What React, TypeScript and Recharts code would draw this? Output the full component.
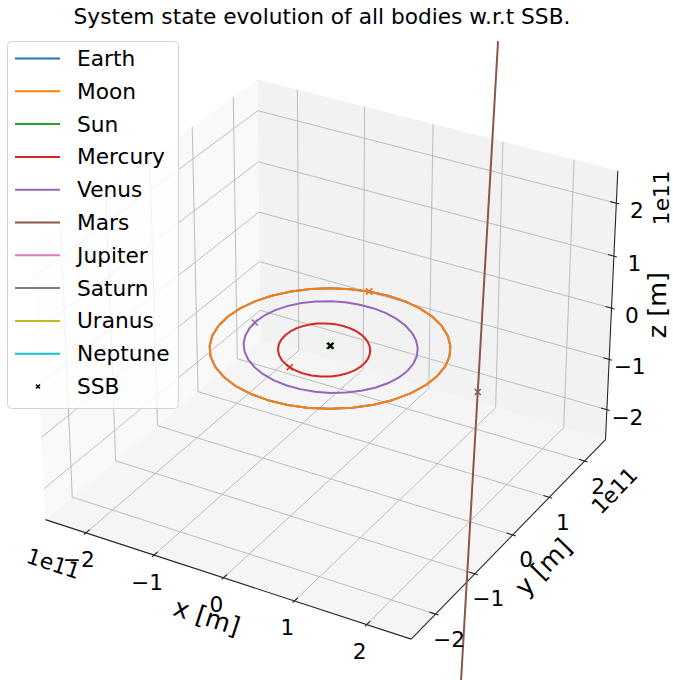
import React from 'react';
import { ScatterChart, Scatter, XAxis, YAxis, Legend } from 'recharts';

const FONT = '"DejaVu Sans", "Liberation Sans", Arial, sans-serif';
const TITLE = 'System state evolution of all bodies w.r.t SSB.';

const BODY_NAMES = ['Earth', 'Moon', 'Sun', 'Mercury', 'Venus', 'Mars', 'Jupiter', 'Saturn', 'Uranus', 'Neptune'];
const BODY_COLORS = ['#1f77b4', '#ff7f0e', '#2ca02c', '#d62728', '#9467bd', '#8c564b', '#e377c2', '#7f7f7f', '#bcbd22', '#17becf'];
const SSB_LABEL = 'SSB';

// Axis limits and ticks, in Gm (1e9 m); labels are shown in units of 1e11 m
const AXIS_LIMIT = 250;
const TICK_VALUES = [-200, -100, 0, 100, 200];
const TICK_LABELS = ['−2', '−1', '0', '1', '2'];
const OFFSET_TEXT = '1e11';
const AXIS_TITLES = ['x [m]', 'y [m]', 'z [m]'];

// Trajectories relative to the solar-system barycentre, ecliptic frame, [x, y, z] in Gm
const earthOrbit = [
  [150.2, 0, 0], [147.5, 26.0, 0], [140.3, 51.1, 0], [128.9, 74.4, 0], [113.7, 95.4, 0], [95.2, 113.4, 0],
  [73.9, 128.0, 0], [50.4, 138.6, 0], [25.6, 145.1, 0], [0, 147.2, 0], [-25.5, 144.9, 0], [-50.3, 138.2, 0],
  [-73.6, 127.5, 0], [-94.7, 112.9, 0], [-113.1, 94.9, 0], [-128.1, 74.0, 0], [-139.3, 50.7, 0], [-146.4, 25.8, 0],
  [-149.0, 0, 0], [-147.2, -25.9, 0], [-140.9, -51.3, 0], [-130.2, -75.2, 0], [-115.5, -96.9, 0], [-97.1, -115.7, 0],
  [-75.7, -131.1, 0], [-51.9, -142.6, 0], [-26.4, -149.6, 0], [0, -152.0, 0], [26.4, -149.8, 0], [52.0, -142.9, 0],
  [76.0, -131.6, 0], [97.6, -116.3, 0], [116.1, -97.4, 0], [131.0, -75.7, 0], [141.9, -51.6, 0], [148.3, -26.1, 0],
  [150.2, 0, 0],
];

// The Moon never strays more than 0.4 Gm from Earth, so it shares Earth's track here
const moonOrbit = earthOrbit;

const sunTrack = [[-1.1, -1.0, 0], [-0.9, -1.2, 0], [-0.7, -1.3, 0]];

const mercuryOrbit = [
  [53.1, 0, -4.8], [50.6, 8.9, -3.9], [46.9, 17.1, -2.9], [42.2, 24.3, -1.9], [36.5, 30.6, -0.8], [30.2, 35.9, 0.2],
  [23.2, 40.2, 1.1], [15.8, 43.3, 2.1], [8.0, 45.3, 2.9], [0, 46.2, 3.7], [-8.1, 45.9, 4.5], [-16.2, 44.4, 5.1],
  [-24.1, 41.7, 5.6], [-31.7, 37.8, 5.9], [-38.8, 32.6, 6.2], [-45.2, 26.1, 6.2], [-50.8, 18.5, 6.1], [-55.1, 9.7, 5.8],
  [-58.0, 0, 5.3], [-59.3, -10.5, 4.5], [-58.6, -21.3, 3.6], [-55.8, -32.2, 2.5], [-50.8, -42.6, 1.2], [-43.6, -52.0, -0.2],
  [-34.5, -59.7, -1.7], [-23.8, -65.5, -3.1], [-12.1, -68.7, -4.5], [0, -69.4, -5.6], [11.9, -67.4, -6.6], [22.9, -63.0, -7.2],
  [32.7, -56.6, -7.6], [40.8, -48.6, -7.7], [46.9, -39.4, -7.5], [51.2, -29.6, -7.1], [53.6, -19.5, -6.5], [54.1, -9.5, -5.7],
  [53.1, 0, -4.8],
];

const venusOrbit = [
  [108.7, 0, -6.2], [106.9, 18.9, -5.9], [101.9, 37.1, -5.4], [93.8, 54.2, -4.7], [82.9, 69.6, -3.8], [69.5, 82.8, -2.9],
  [54.0, 93.5, -1.8], [36.9, 101.3, -0.7], [18.7, 106.1, 0.4], [0, 107.7, 1.5], [-18.7, 105.9, 2.5], [-36.8, 101.0, 3.5],
  [-53.7, 93.1, 4.4], [-69.1, 82.3, 5.1], [-82.3, 69.1, 5.7], [-93.1, 53.8, 6.1], [-101.1, 36.8, 6.4], [-106.0, 18.7, 6.4],
  [-107.7, 0, 6.2], [-106.2, -18.7, 5.9], [-101.4, -36.9, 5.4], [-93.6, -54.0, 4.7], [-82.9, -69.5, 3.8], [-69.6, -83.0, 2.9],
  [-54.2, -93.9, 1.8], [-37.1, -102.0, 0.7], [-18.9, -107.0, -0.4], [0, -108.8, -1.5], [18.9, -107.2, -2.5], [37.2, -102.3, -3.5],
  [54.5, -94.3, -4.4], [70.0, -83.4, -5.1], [83.4, -70.0, -5.7], [94.3, -54.5, -6.1], [102.3, -37.2, -6.4], [107.1, -18.9, -6.4],
  [108.7, 0, -6.2],
];

const marsTrack = [[208.0, -35.9, -700], [208.0, -21.3, -400], [208.0, -2.0, -5.2], [208.0, 17.8, 400], [208.0, 27.8, 605]];

// Initial positions, marked with an "x"
const MARKER_BODIES = ['Earth', 'Moon', 'Sun', 'Mercury', 'Venus', 'Mars'];
const markerPositions = [
  [-26.7, 144.7, 0], [-27.0, 144.4, 0], [-1.1, -1.0, 0], [-19.5, -67.0, -3.6], [-107.7, -3.7, 6.2], [208.0, -2.0, -5.2],
];
const ssbPosition = [0, 0, 0];

// ---- 3D perspective projection (elev 30°, azim -60°, box aspect 4:4:3) ----
const VIEW_ELEV = 30;
const VIEW_AZIM = -60;
const CAM_DIST = 10;
const FOCAL = 1;
const deg = Math.PI / 180;
const BOX_ASPECT = [4, 4, 3].map((v) => (v * 1.8294640721620434) / Math.hypot(4, 4, 3));
const boxCentre = BOX_ASPECT.map((v) => v / 2);
const camDir = [
  Math.cos(VIEW_ELEV * deg) * Math.cos(VIEW_AZIM * deg),
  Math.cos(VIEW_ELEV * deg) * Math.sin(VIEW_AZIM * deg),
  Math.sin(VIEW_ELEV * deg),
];
const eye = boxCentre.map((c, i) => c + CAM_DIST * camDir[i] * FOCAL);
const cross = (a: number[], b: number[]) => [
  a[1] * b[2] - a[2] * b[1],
  a[2] * b[0] - a[0] * b[2],
  a[0] * b[1] - a[1] * b[0],
];
const unit = (a: number[]) => {
  const n = Math.hypot(a[0], a[1], a[2]);
  return a.map((v) => v / n);
};
const dot = (a: number[], b: number[]) => a[0] * b[0] + a[1] * b[1] + a[2] * b[2];
const viewW = unit(camDir);
const viewU = unit(cross([0, 0, 1], viewW));
const viewV = cross(viewW, viewU);

function project(p: number[]) {
  const world = p.map((v, i) => ((v + AXIS_LIMIT) / (2 * AXIS_LIMIT)) * BOX_ASPECT[i]);
  const q = world.map((v, i) => v - eye[i]);
  const depth = -dot(viewW, q);
  return { px: (FOCAL * dot(viewU, q)) / depth, py: (FOCAL * dot(viewV, q)) / depth };
}
const toPoints = (pts: number[][]) => pts.map(project);

// 2D view window of the projected coordinates
const VIEW_X = [-0.09392, 0.09727];
const VIEW_Y = [-0.09494, 0.09824];
const WIDTH = 673;
const HEIGHT = 680;

// Pane box: limits padded by a quarter of a twelfth of the range
const DELTA = (2 * AXIS_LIMIT) / 12;
const P = AXIS_LIMIT + DELTA / 4;

const panes = [
  { key: 'pane-x', fill: '#f9f9f9', pts: [[-P, -P, -P], [-P, P, -P], [-P, P, P], [-P, -P, P], [-P, -P, -P]] },
  { key: 'pane-y', fill: '#f2f2f2', pts: [[-P, P, -P], [P, P, -P], [P, P, P], [-P, P, P], [-P, P, -P]] },
  { key: 'pane-z', fill: '#f5f5f5', pts: [[-P, -P, -P], [P, -P, -P], [P, P, -P], [-P, P, -P], [-P, -P, -P]] },
];

const gridLines = TICK_VALUES.flatMap((t) => [
  { key: `gx${t}`, pts: [[t, -P, -P], [t, P, -P], [t, P, P]] },
  { key: `gy${t}`, pts: [[P, t, -P], [-P, t, -P], [-P, t, P]] },
  { key: `gz${t}`, pts: [[P, P, t], [-P, P, t], [-P, -P, t]] },
]);

const axisLines = [
  { key: 'ax-x', pts: [[-P, -P, -P], [P, -P, -P]] },
  { key: 'ax-y', pts: [[P, -P, -P], [P, P, -P]] },
  { key: 'ax-z', pts: [[P, P, -P], [P, P, P]] },
];

const tickMarks = TICK_VALUES.flatMap((t) => [
  { key: `tx${t}`, pts: [[t, -P - 0.1 * DELTA, -P], [t, -P + 0.2 * DELTA, -P]] },
  { key: `ty${t}`, pts: [[P + 0.1 * DELTA, t, -P], [P - 0.2 * DELTA, t, -P]] },
  { key: `tz${t}`, pts: [[P + 0.1 * DELTA, P, t], [P - 0.2 * DELTA, P, t]] },
]);

const xTickText = TICK_VALUES.map((t, i) => ({ ...project([t, -P, -P]), text: TICK_LABELS[i] }));
const yTickText = TICK_VALUES.map((t, i) => ({ ...project([P, t, -P]), text: TICK_LABELS[i] }));
const zTickText = TICK_VALUES.map((t, i) => ({ ...project([P, P, t]), text: TICK_LABELS[i] }));

const hiddenPoint = () => <g />;

const lineSeries = (key: string, pts: number[][], stroke: string, strokeWidth: number, fill = 'none') => (
  <Scatter
    key={key}
    data={toPoints(pts)}
    line={{ stroke, strokeWidth, fill, strokeLinejoin: 'round' }}
    lineType="joint"
    shape={hiddenPoint}
    fill={stroke}
    legendType="none"
    isAnimationActive={false}
  />
);

const textShape = (dx: number, dy: number, rotate: number, size: number) => (props: any) => {
  const x = props.cx + dx;
  const y = props.cy + dy;
  return (
    <text
      x={x}
      y={y}
      textAnchor="middle"
      dominantBaseline="central"
      fontFamily={FONT}
      fontSize={size}
      fill="#000"
      transform={rotate ? `rotate(${rotate} ${x} ${y})` : undefined}
    >
      {props.payload.text}
    </text>
  );
};

const textSeries = (key: string, data: any[], dx: number, dy: number, rotate: number, size: number) => (
  <Scatter key={key} data={data} shape={textShape(dx, dy, rotate, size)} legendType="none" isAnimationActive={false} />
);

const crossShape = (color: string, half: number, width: number) => (props: any) => {
  const { cx, cy } = props;
  return (
    <path
      d={`M${cx - half},${cy - half}L${cx + half},${cy + half}M${cx - half},${cy + half}L${cx + half},${cy - half}`}
      stroke={color}
      strokeWidth={width}
      fill="none"
    />
  );
};

const TICK_FONT = 21.7;
const LABEL_FONT = 25.5;
const X_ANGLE = 18;
const Y_ANGLE = -45.7;

const LEGEND_W = 172;
const LEGEND_H = 368;
const ROW_TOP = 17.5;
const ROW_STEP = 32.8;

const LegendBox = () => (
  <svg width={LEGEND_W} height={LEGEND_H} style={{ display: 'block' }}>
    <rect x={0.5} y={0.5} width={LEGEND_W - 1} height={LEGEND_H - 1} rx={4} fill="rgba(255,255,255,0.8)" stroke="#d2d2d2" />
    {BODY_NAMES.map((name, i) => {
      const y = ROW_TOP + ROW_STEP * i;
      return (
        <g key={name}>
          <line x1={8} x2={53} y1={y} y2={y} stroke={BODY_COLORS[i]} strokeWidth={2} />
          <text x={70} y={y} dominantBaseline="central" fontFamily={FONT} fontSize={TICK_FONT} fill="#000">
            {name}
          </text>
        </g>
      );
    })}
    {(() => {
      const y = ROW_TOP + ROW_STEP * BODY_NAMES.length;
      return (
        <g>
          <path d={`M29,${y - 2}L33,${y + 2}M29,${y + 2}L33,${y - 2}`} stroke="#000" strokeWidth={1.5} />
          <text x={70} y={y} dominantBaseline="central" fontFamily={FONT} fontSize={TICK_FONT} fill="#000">
            {SSB_LABEL}
          </text>
        </g>
      );
    })()}
  </svg>
);

const bodyTracks: [string, number[][]][] = [
  ['Earth', earthOrbit],
  ['Moon', moonOrbit],
  ['Sun', sunTrack],
  ['Mercury', mercuryOrbit],
  ['Venus', venusOrbit],
  ['Mars', marsTrack],
];

export default function App() {
  const colorOf = (name: string) => BODY_COLORS[BODY_NAMES.indexOf(name)];
  return (
    <div style={{ position: 'absolute', left: 0, top: 0, width: WIDTH, height: HEIGHT, background: '#fff' }}>
      <ScatterChart width={WIDTH} height={HEIGHT} margin={{ top: 0, right: 0, bottom: 0, left: 0 }}>
        <XAxis type="number" dataKey="px" domain={VIEW_X} allowDataOverflow hide />
        <YAxis type="number" dataKey="py" domain={VIEW_Y} allowDataOverflow hide />

        {panes.map((p) => lineSeries(p.key, p.pts, 'none', 0, p.fill))}
        {gridLines.map((g) => lineSeries(g.key, g.pts, '#bdbdbd', 1))}
        {axisLines.map((a) => lineSeries(a.key, a.pts, '#262626', 1.1))}
        {tickMarks.map((t) => lineSeries(t.key, t.pts, '#262626', 1.1))}

        {bodyTracks.map(([name, pts]) => lineSeries(`track-${name}`, pts, colorOf(name), 2))}

        {MARKER_BODIES.map((name, i) => (
          <Scatter
            key={`start-${name}`}
            data={[project(markerPositions[i])]}
            shape={crossShape(colorOf(name), 3, 1.5)}
            legendType="none"
            isAnimationActive={false}
          />
        ))}
        <Scatter
          key="ssb"
          data={[project(ssbPosition)]}
          shape={crossShape('#000', 3, 2)}
          legendType="none"
          isAnimationActive={false}
        />

        {textSeries('xticks', xTickText, -7, 27, 0, TICK_FONT)}
        {textSeries('yticks', yTickText, 13.5, 25, 0, TICK_FONT)}
        {textSeries('zticks', zTickText, 20.5, 7.5, 0, TICK_FONT)}
        {textSeries('xoffset', [{ ...project([-P, -P, -P]), text: OFFSET_TEXT }], 8, 44, X_ANGLE, TICK_FONT)}
        {textSeries('yoffset', [{ ...project([P, P, -P]), text: OFFSET_TEXT }], 9, 51, Y_ANGLE, TICK_FONT)}
        {textSeries('zoffset', [{ ...project([P, P, P]), text: OFFSET_TEXT }], 43.5, 27, -90, TICK_FONT)}
        {textSeries('xlabel', [{ ...project([0, -P, -P]), text: AXIS_TITLES[0] }], -16.5, 39, X_ANGLE, LABEL_FONT)}
        {textSeries('ylabel', [{ ...project([P, 0, -P]), text: AXIS_TITLES[1] }], 30.3, 32, Y_ANGLE, LABEL_FONT)}
        {textSeries('zlabel', [{ ...project([P, P, 0]), text: AXIS_TITLES[2] }], 45.4, -3, -90, LABEL_FONT)}

        <Legend
          layout="vertical"
          align="center"
          verticalAlign="middle"
          content={LegendBox}
          wrapperStyle={{ left: 7, top: 41, width: LEGEND_W, height: LEGEND_H, margin: 0 }}
        />
      </ScatterChart>
      <svg
        width={WIDTH}
        height={40}
        style={{ position: 'absolute', left: 0, top: 0, pointerEvents: 'none' }}
      >
        <text x={322} y={24} textAnchor="middle" fontFamily={FONT} fontSize={TICK_FONT} fill="#000">
          {TITLE}
        </text>
      </svg>
    </div>
  );
}
